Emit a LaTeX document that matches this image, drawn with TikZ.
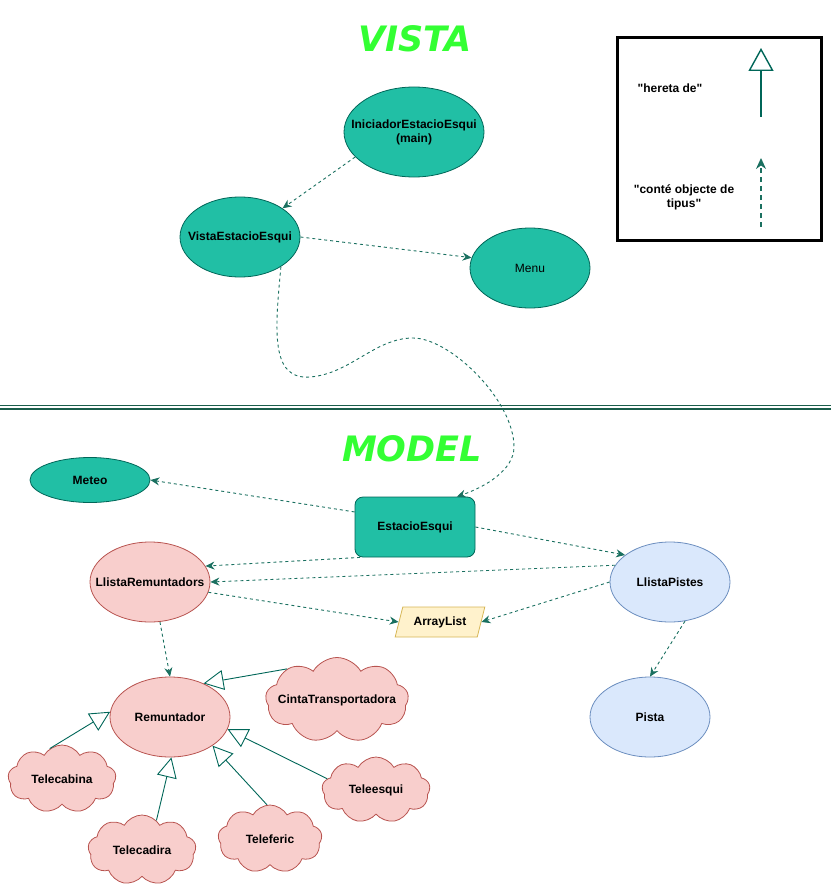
\documentclass[tikz,border=0pt]{standalone}
\usepackage{fontspec}
\setmainfont{Liberation Sans}
\newfontfamily\titlefont{DejaVu Sans}
\usetikzlibrary{shapes.geometric,shapes.symbols,arrows.meta}

\definecolor{tealfill}{HTML}{21BFA5}
\definecolor{tealline}{HTML}{006658}
\definecolor{arrowline}{HTML}{1A7060}
\definecolor{pinkfill}{HTML}{F8CECC}
\definecolor{pinkline}{HTML}{B85450}
\definecolor{bluefill}{HTML}{DAE8FC}
\definecolor{blueline}{HTML}{6C8EBF}
\definecolor{yellowfill}{HTML}{FFF2CC}
\definecolor{yellowline}{HTML}{D6B656}
\definecolor{titlegreen}{HTML}{33FF33}
\definecolor{sepgreen}{HTML}{1B5E4B}

\tikzset{
  labelfont/.style={font=\fontsize{12}{14}\selectfont\bfseries},
  classnode/.style={ellipse, draw, line width=0.8pt, labelfont, align=center,
    inner xsep=-25pt, inner ysep=0pt, minimum width=120pt, minimum height=80pt},
  vistanode/.style={classnode, draw=tealline, fill=tealfill},
  remnode/.style={classnode, draw=pinkline, fill=pinkfill},
  pistanode/.style={classnode, draw=blueline, fill=bluefill},
  cloudnode/.style={cloud, cloud puffs=9, cloud puff arc=120, cloud ignores aspect,
    draw=pinkline, fill=pinkfill, line width=0.8pt, inner sep=0pt,
    label={[labelfont]center:#1}},
  arraynode/.style={trapezium, trapezium left angle=72, trapezium right angle=108,
    trapezium stretches=true,
    draw=yellowline, fill=yellowfill, line width=0.8pt, labelfont,
    inner xsep=2pt, minimum width=90pt, minimum height=30pt},
  uses/.style={draw=arrowline, line width=0.9pt, dash pattern=on 3pt off 3pt,
    -{Stealth[length=9pt,width=8pt]}},
  inherits/.style={draw=tealline, line width=0.9pt,
    -{Triangle[open,length=20pt,width=20pt]}},
  titletext/.style={font=\titlefont\fontsize{35}{40}\selectfont\bfseries\itshape,
    text=titlegreen},
}

\begin{document}
\begin{tikzpicture}[x=1pt,y=-1pt]
    \useasboundingbox (0,0) rectangle (831,888);

    % Titles
    \node[titletext] (vistatitle) at (415,39) {VISTA};
    \node[titletext] (modeltitle) at (412,449) {MODEL};

    % Legend
    \draw[line width=3pt] (617,38) rectangle (821,240);
    \node[labelfont] (heretatext) at (670,88) {\textquotedbl hereta de\textquotedbl};
    \coordinate (heretabase) at (761,117);
    \coordinate (heretatip) at (761,48);
    \draw[inherits, line width=1.4pt, -{Triangle[open,length=23pt,width=25pt]}] (heretabase) -- (heretatip);
    \node[labelfont, align=center] (contetext) at (684,197) {\textquotedbl conté objecte de\\tipus\textquotedbl};
    \coordinate (contebase) at (761,227);
    \coordinate (contetip) at (761,158);
    \draw[uses, line width=1.4pt, dash pattern=on 5pt off 4pt, -{Stealth[length=11pt,width=10pt]}] (contebase) -- (contetip);

    % Separator
    \draw[draw=sepgreen, double=white, double distance=2.6pt, line width=1.2pt] (0,407) -- (831,407);

    % Vista
    \node[vistanode, minimum width=140pt, minimum height=90pt] (iniciador) at (414,132) {IniciadorEstacioEsqui\\(main)};
    \node[vistanode] (vista) at (240,237) {VistaEstacioEsqui};
    \node[vistanode, font=\fontsize{12}{14}\selectfont] (menu) at (530,268) {Menu};

    % Model
    \node[vistanode, minimum height=45pt] (meteo) at (90,480) {Meteo};
    \node[rectangle, rounded corners=8pt, draw=tealline, fill=tealfill, line width=0.8pt,
      labelfont, minimum width=120pt, minimum height=60pt] (estacio) at (415,527) {EstacioEsqui};
    \node[remnode] (llistarem) at (150,582) {LlistaRemuntadors};
    \node[pistanode] (llistapistes) at (670,582) {LlistaPistes};
    \node[arraynode] (arraylist) at (440,622) {ArrayList};
    \node[remnode] (remuntador) at (170,717) {Remuntador};
    \node[pistanode] (pista) at (650,717) {Pista};

    % Remuntador subclasses
    \node[cloudnode=CintaTransportadora, minimum width=143pt, minimum height=85pt] (cinta) at (337,700) {};
    \node[cloudnode=Telecabina, minimum width=108pt, minimum height=68pt] (telecabina) at (62,779) {};
    \node[cloudnode=Telecadira, minimum width=108pt, minimum height=70pt] (telecadira) at (142,850) {};
    \node[cloudnode=Teleferic, minimum width=104pt, minimum height=68pt] (teleferic) at (270,839) {};
    \node[cloudnode=Teleesqui, minimum width=108pt, minimum height=66pt] (teleesqui) at (376,790) {};

    % Iniciador -> Vista -> Menu
    \draw[uses] (iniciador.203) -- (vista.34);
    \draw[uses] (vista.east) -- (menu.170);

    % Vista -> EstacioEsqui
    \draw[uses] (vista.324) .. controls (275,330) and (270,380) .. (310,377)
      .. controls (350,374) and (375,338) .. (413,338)
      .. controls (450,338) and (514,400) .. (514,447)
      .. controls (514,470) and (485,487) .. (estacio.36);

    % EstacioEsqui -> Meteo, LlistaRemuntadors, LlistaPistes
    \draw[uses] (estacio.166) -- (meteo.east);
    \draw[uses] (estacio.209) -- (llistarem.16);
    \draw[uses] (estacio.east) -- (llistapistes.149);

    % Llistes
    \draw[uses] (llistapistes.163) -- (llistarem.east);
    \draw[uses] (llistarem.-10) -- (arraylist.west);
    \draw[uses] (llistapistes.west) -- (arraylist.east);
    \draw[uses] (llistarem.284) -- (remuntador.north);
    \draw[uses] (llistapistes.291) -- (pista.north);

    % hereta de Remuntador
    \draw[inherits] (telecabina.112) -- (remuntador.175);
    \draw[inherits] (cinta.148) -- (remuntador.45);
    \draw[inherits] (telecadira.64) -- (remuntador.272);
    \draw[inherits] (teleferic.95) -- (remuntador.326);
    \draw[inherits] (teleesqui.167) -- (remuntador.348);

\end{tikzpicture}
\end{document}
